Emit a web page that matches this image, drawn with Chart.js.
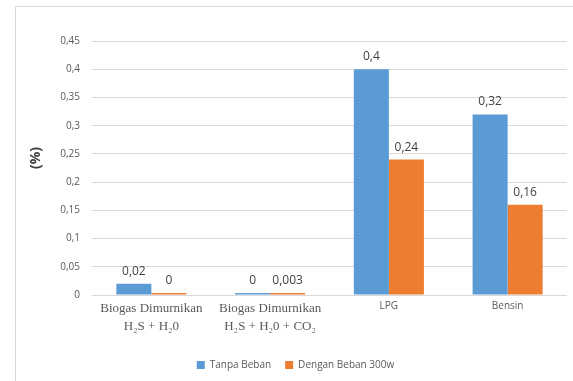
<!DOCTYPE html>
<html>
<head>
<meta charset="utf-8">
<script src="https://cdn.jsdelivr.net/npm/chart.js@4/dist/chart.umd.min.js"></script>
<style>
  html, body { margin: 0; padding: 0; background: #fff; }
  #wrap { position: relative; width: 573px; height: 381px; }
</style>
</head>
<body>
<div id="wrap"><canvas id="c" width="573" height="381"></canvas></div>
<script>
// Emisi per bahan bakar (%), tanpa dan dengan beban 300 W
const categories = [
  ["Biogas Dimurnikan", "H\u2082S + H\u20820"],
  ["Biogas Dimurnikan", "H\u2082S + H\u20820 + CO\u2082"],
  "LPG",
  "Bensin"
];
const tanpaBeban = [0.02, 0, 0.4, 0.32];
const denganBeban = [0, 0.003, 0.24, 0.16];
const seriesNames = ["Tanpa Beban", "Dengan Beban 300w"];
const yAxisTitle = "(%)";
const yMax = 0.45;
const yStep = 0.05;

const fmt = v => String(Number(v.toFixed(3))).replace('.', ',');

// outer frame, axis title and value labels
const decor = {
  id: 'decor',
  afterLayout(chart) {
    // centre the legend under the plot area rather than the canvas
    const lg = chart.legend;
    if (lg) { lg.left += 12; lg.right += 12; }
  },
  beforeDraw(chart) {
    const ctx = chart.ctx;
    ctx.save();
    ctx.fillStyle = '#fff';
    ctx.fillRect(0, 0, chart.width, chart.height);
    ctx.strokeStyle = '#d9d9d9';
    ctx.lineWidth = 1;
    ctx.beginPath();
    ctx.moveTo(15.5, chart.height);
    ctx.lineTo(15.5, 6.5);
    ctx.lineTo(chart.width, 6.5);
    ctx.stroke();
    ctx.restore();
  },
  afterDatasetsDraw(chart) {
    const ctx = chart.ctx;
    ctx.save();
    ctx.fillStyle = '#404040';
    ctx.font = '12px "Open Sans"';
    ctx.textAlign = 'center';
    ctx.textBaseline = 'alphabetic';
    chart.data.datasets.forEach((ds, di) => {
      const meta = chart.getDatasetMeta(di);
      meta.data.forEach((bar, i) => {
        const v = ds.data[i];
        const top = Math.min(bar.y, bar.base);
        ctx.fillText(fmt(v), bar.x, top - 9);
      });
    });
    ctx.translate(36, 158);
    ctx.rotate(-Math.PI / 2);
    ctx.font = 'bold 14px "Open Sans"';
    ctx.textBaseline = 'middle';
    ctx.fillText(yAxisTitle, 0, 0);
    ctx.restore();
  }
};

new Chart(document.getElementById('c'), {
  type: 'bar',
  data: {
    labels: categories,
    datasets: [
      { label: seriesNames[0], data: tanpaBeban, backgroundColor: '#5b9bd5' },
      { label: seriesNames[1], data: denganBeban, backgroundColor: '#ed7d31' }
    ]
  },
  options: {
    responsive: false,
    animation: false,
    devicePixelRatio: 1,
    layout: { padding: { top: 41, right: 6, bottom: 1, left: 0 } },
    datasets: {
      bar: { barPercentage: 1, categoryPercentage: 0.59, minBarLength: 2 }
    },
    scales: {
      x: {
        grid: { display: false, drawTicks: false },
        border: { display: false },
        afterFit(s) { s.height = 51; },
        ticks: {
          padding: 5,
          color: '#595959',
          maxRotation: 0,
          autoSkip: false,
          font: (c) => c.index < 2
            ? { family: '"Liberation Serif", "Times New Roman", serif', size: 13, lineHeight: 1.35 }
            : { family: '"Open Sans", sans-serif', size: 10 }
        }
      },
      y: {
        min: 0,
        max: yMax,
        grid: { color: '#d9d9d9', drawTicks: false },
        border: { display: false },
        afterFit(s) { s.width = 92; },
        ticks: {
          stepSize: yStep,
          padding: 12,
          color: '#595959',
          font: { family: '"Open Sans", sans-serif', size: 10 },
          callback: v => fmt(v)
        }
      }
    },
    plugins: {
      legend: {
        position: 'bottom',
        labels: {
          boxWidth: 8,
          boxHeight: 8,
          padding: 14,
          color: '#595959',
          font: { family: '"Open Sans", sans-serif', size: 10 }
        }
      },
      tooltip: { enabled: false }
    }
  },
  plugins: [decor]
});
</script>
</body>
</html>
